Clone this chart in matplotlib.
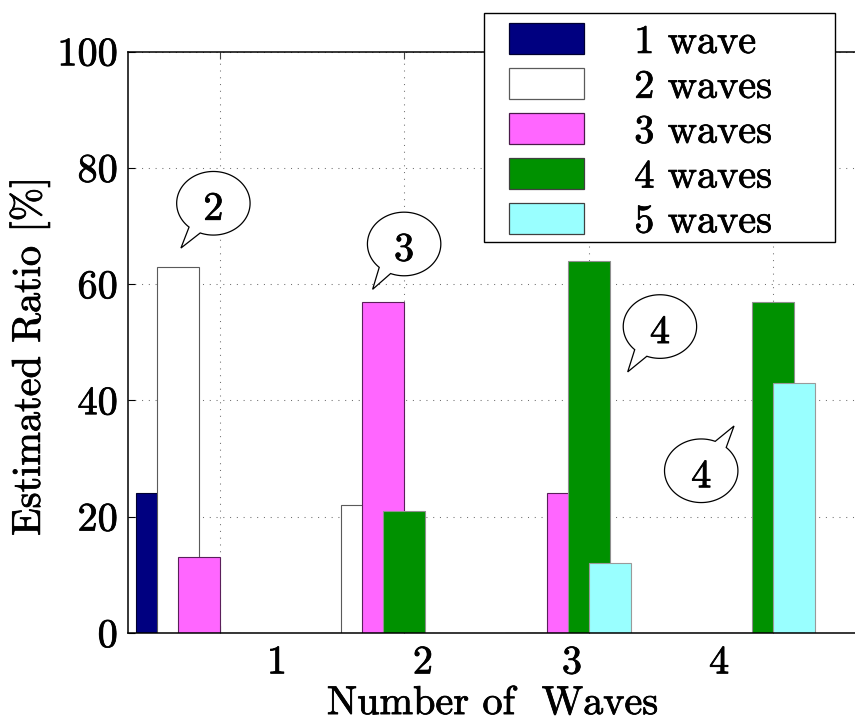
import numpy as np
import matplotlib
matplotlib.use("Agg")
import matplotlib.pyplot as plt
import matplotlib.patheffects as pe
from matplotlib.patches import Polygon, Rectangle, Patch
from matplotlib.transforms import IdentityTransform

plt.rcParams["font.family"] = "cmr10"
plt.rcParams["mathtext.fontset"] = "cm"
plt.rcParams["axes.unicode_minus"] = False
plt.rcParams["axes.formatter.use_mathtext"] = True

# ---- data ---------------------------------------------------------------
groups = np.array([1, 2, 3, 4])
group_labels = ["1", "2", "3", "4"]
series_names = ["1 wave", "2 waves", "3 waves", "4 waves", "5 waves"]
one_wave = [24, 0, 0, 0]
two_waves = [63, 22, 0, 0]
three_waves = [13, 57, 24, 0]
four_waves = [0, 21, 64, 57]
five_waves = [0, 0, 12, 43]
series_values = [one_wave, two_waves, three_waves, four_waves, five_waves]

# ---- styling ------------------------------------------------------------
fills = ["#000080", "#ffffff", "#ff66ff", "#009100", "#99ffff"]
bar_edges = ["#000030", "#5a5a5a", "#5a1f5a", "#8f8f8f", "#9a9a9a"]
legend_edges = ["#000030", "#5a5a5a", "#4a1a4a", "#404040", "#404040"]
FS = 29
ink = [pe.withStroke(linewidth=0.55, foreground="black")]

W, H = 855, 722
fig = plt.figure(figsize=(W / 100, H / 100), dpi=100)
ax = fig.add_axes([128 / W, 1 - 633 / H, (857 - 128) / W, (633 - 51.5) / H])

step = 0.114          # shift between neighbouring series
width = 0.228         # each bar overlaps half of the next one
group_px = 184.3
ax.set_xlim(1 - (199 - 128) / group_px, 1 + (857 - 199) / group_px)
ax.set_ylim(0, 100)

for i, (vals, fc, ec) in enumerate(zip(series_values, fills, bar_edges)):
    ax.bar(groups + (i - 2) * step, vals, width, color=fc, edgecolor=ec,
           linewidth=0.8, zorder=2)

# tick labels sit between the grid columns
tick_label_x = [1.423, 2.215, 3.024, 3.822]
ax.set_xticks(tick_label_x)
ax.set_xticklabels(group_labels)
ax.set_xticks(groups + step, minor=True)
ax.set_yticks([0, 20, 40, 60, 80, 100])

ax.tick_params(axis="x", which="major", length=0, pad=9, labelsize=FS)
ax.tick_params(axis="x", which="minor", direction="in", length=5, width=0.8,
               top=True, bottom=True, color="#444444")
ax.tick_params(axis="y", which="major", direction="in", length=5, width=0.8,
               left=True, right=False, pad=7, labelsize=FS)

grid_style = dict(linestyle=(0, (1, 5.5)), color="#6f6f6f", linewidth=0.75)
ax.xaxis.grid(True, which="minor", **grid_style)
ax.yaxis.grid(True, which="major", **grid_style)
ax.set_axisbelow(True)

for side in ("left", "bottom", "top"):
    ax.spines[side].set_linewidth(1.1)
ax.spines["right"].set_visible(False)

ax.set_xlabel("Number of  Waves", fontsize=FS, labelpad=3.5)
ax.set_ylabel("Estimated Ratio [%]", fontsize=FS)
ax.yaxis.set_label_coords(-0.107, 0.476)

for lbl in ax.get_xticklabels() + ax.get_yticklabels():
    lbl.set_path_effects(ink)
ax.xaxis.label.set_path_effects(ink)
ax.yaxis.label.set_path_effects(ink)

# ---- legend -------------------------------------------------------------
fig.add_artist(Rectangle((484 / W, 1 - 242 / H), (835 - 484) / W, (242 - 13) / H,
                         transform=fig.transFigure, facecolor="white",
                         edgecolor="black", linewidth=1.0, zorder=4))
handles = [Patch(facecolor=fc, edgecolor=ec, linewidth=0.9)
           for fc, ec in zip(fills, legend_edges)]
leg = fig.legend(handles, series_names, loc="upper left",
                 bbox_to_anchor=(509 / W, 1 - 23.5 / H), frameon=False,
                 borderpad=0, borderaxespad=0, handlelength=1.86,
                 handleheight=0.8, handletextpad=1.25, labelspacing=0.185,
                 fontsize=FS)
for txt in leg.get_texts():
    txt.set_path_effects(ink)


# ---- speech-bubble callouts --------------------------------------------
def speech_bubble(label, center, tip, gap, a=36.7, b=31.8):
    cx, cy = ax.transData.transform(center)
    tx, ty = ax.transData.transform(tip)
    t = np.radians(np.linspace(gap[1], gap[0] + 360, 240))
    outline = np.column_stack([cx + a * np.cos(t), cy + b * np.sin(t)])
    outline = np.vstack([outline, [tx, ty]])
    fig.add_artist(Polygon(outline, closed=True, facecolor="white",
                           edgecolor="black", linewidth=0.9,
                           transform=IdentityTransform(), zorder=6))
    fig.text(cx, cy - 16.5, label, transform=IdentityTransform(),
             ha="center", va="baseline", fontsize=FS, zorder=7,
             path_effects=ink)


speech_bubble("2", (1.078, 73.9), (0.902, 66.2), (228.5, 249.0))
speech_bubble("3", (2.113, 66.9), (1.942, 59.1), (227.3, 248.4))
speech_bubble("4", (3.501, 52.7), (3.326, 44.9), (226.6, 249.1))
speech_bubble("4", (3.725, 27.9), (3.903, 35.6), (47.1, 67.6))

fig.savefig("out.png", dpi=100)
